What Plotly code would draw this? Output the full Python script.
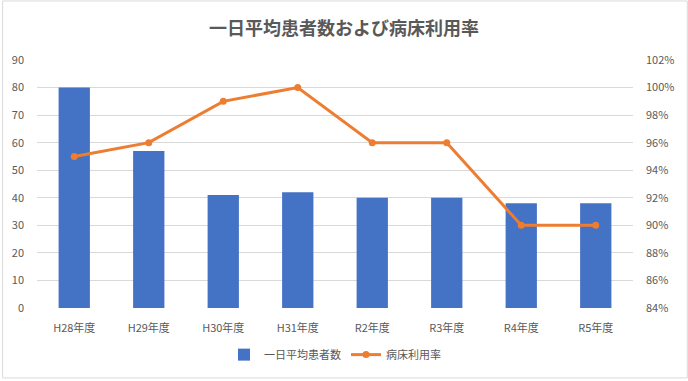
import plotly.graph_objects as go

categories = ["H28年度", "H29年度", "H30年度", "H31年度", "R2年度", "R3年度", "R4年度", "R5年度"]
patients = [80, 57, 41, 42, 40, 40, 38, 38]
bed_rate = [0.95, 0.96, 0.99, 1.00, 0.96, 0.96, 0.90, 0.90]

FONT = "Noto Sans CJK JP"
GREY = "#595959"

fig = go.Figure()
fig.add_trace(go.Bar(
    x=categories, y=patients, name="一日平均患者数",
    marker=dict(color="#4472C4", line=dict(width=0)), width=0.42,
))
fig.add_trace(go.Scatter(
    x=categories, y=bed_rate, name="病床利用率", yaxis="y2",
    mode="lines+markers",
    line=dict(color="#ED7D31", width=3),
    marker=dict(color="#ED7D31", size=7),
))

T, B = 60, 71
PH = 381 - T - B

fig.update_layout(
    width=688, height=381,
    paper_bgcolor="white", plot_bgcolor="white",
    margin=dict(l=35, r=55, t=T, b=B),
    font=dict(family=FONT, color=GREY, size=11),
    title=dict(text="<b>一日平均患者数および病床利用率</b>", x=0.5, xanchor="center",
               y=0.925, yanchor="middle",
               font=dict(family=FONT, size=18, color=GREY)),
    xaxis=dict(showgrid=False, showline=False, ticks="",
               ticklabelstandoff=12,
               tickfont=dict(family=FONT, size=11, color=GREY)),
    yaxis=dict(range=[0, 90], dtick=10, showgrid=True, gridcolor="#D9D9D9",
               gridwidth=1, zeroline=False, showline=False, ticks="",
               ticklabelstandoff=12,
               tickfont=dict(family=FONT, size=11, color=GREY)),
    yaxis2=dict(range=[0.84, 1.02], dtick=0.02, tickformat=".0%",
                overlaying="y", side="right", showgrid=False,
                zeroline=False, showline=False, ticks="",
                ticklabelstandoff=12,
                tickfont=dict(family=FONT, size=11, color=GREY)),
    legend=dict(orientation="h", x=0.5, xanchor="center", y=-(357 - (381 - B)) / PH,
                yanchor="middle", font=dict(family=FONT, size=11, color=GREY),
                traceorder="normal", itemwidth=30),
    bargap=0.58,
    showlegend=True,
)
fig.add_shape(type="rect", xref="paper", yref="paper",
              x0=-34.5/598, x1=1+54.5/598, y0=-(B - 0.5)/PH, y1=1+(T - 0.5)/PH,
              line=dict(color="#D9D9D9", width=1), layer="below")

fig.write_html("out.html", config={"displayModeBar": False},
               post_script="document.body.style.margin='0';document.body.style.overflow='hidden';")
